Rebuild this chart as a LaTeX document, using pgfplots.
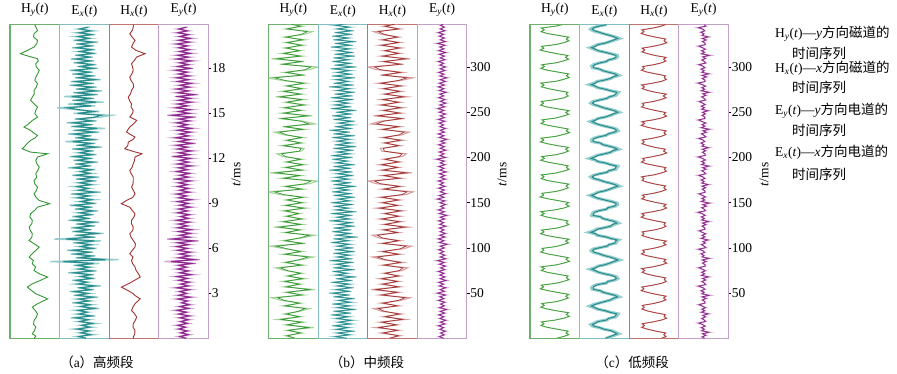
\documentclass[border=0pt]{standalone}
\usepackage{fontspec}
\setmainfont{Liberation Serif}
\newfontfamily\cjk{Noto Sans CJK SC}
\usepackage{pgfplots}
\pgfplotsset{compat=1.18}
\usepackage{pgfplotstable}
\newcommand\fs{\fontsize{13.5}{16}\selectfont}
\definecolor{hyD}{RGB}{52,150,52}
\definecolor{hyL}{RGB}{165,212,155}
\definecolor{hyF}{RGB}{110,175,110}
\definecolor{exD}{RGB}{40,140,140}
\definecolor{exL}{RGB}{150,205,205}
\definecolor{exF}{RGB}{130,190,195}
\definecolor{hxD}{RGB}{160,50,50}
\definecolor{hxL}{RGB}{215,160,160}
\definecolor{hxF}{RGB}{190,115,110}
\definecolor{eyD}{RGB}{140,40,140}
\definecolor{eyL}{RGB}{215,165,215}
\definecolor{eyF}{RGB}{195,160,200}
\pgfplotsset{
 pnl/.style={scale only axis, width=49.6pt, height=314pt, anchor=south west,
   xmin=-1, xmax=1, xtick=\empty, ytick=\empty,
   axis line style={line width=1.1pt},
   title style={font=\fs, yshift=-2pt}, tick label style={font=\fs}},
 ga/.style={pnl, ymin=0, ymax=20.93},
 gb/.style={pnl, ymin=0, ymax=347},
 tk/.style={ytick pos=right, yticklabel pos=right, tick align=outside,
   major tick length=3pt, ytick style={black, line width=0.6pt},
   yticklabel style={xshift=-3pt},
   /pgf/number format/assume math mode=true},
}
% ---------- group a (explicit value, time) ----------
\pgfplotstableread[header=false,row sep=\\]{-3 0\\4 0.15\\-10 0.31\\-2 0.5\\4 0.76\\-5 0.95\\-3 1.2\\6 1.4\\11 1.64\\2 1.85\\-10 2.09\\11 2.31\\52 2.64\\4 2.98\\-14 3.2\\-30 3.42\\-10 3.64\\20 3.85\\52 4.09\\18 4.31\\-3 4.53\\3 4.75\\-10 4.98\\-6 5.2\\-23 5.42\\-10 5.65\\4 5.87\\18 6.09\\-2 6.3\\-23 6.53\\-12 6.75\\-10 6.98\\-18 7.2\\-23 7.42\\-12 7.65\\-10 7.87\\-20 8.1\\-17 8.31\\0 8.55\\11 8.75\\60 8.98\\18 9.2\\5 9.4\\-3 9.64\\6 9.85\\11 10.09\\0 10.3\\-3 10.53\\8 10.75\\4 10.98\\12 11.2\\18 11.42\\8 11.65\\4 11.87\\11 12.09\\52 12.31\\-17 12.42\\-51 12.64\\-44 12.75\\-30 13.0\\-17 13.2\\0 13.35\\11 13.53\\-5 13.7\\-17 13.87\\-44 14.09\\-25 14.3\\-10 14.53\\11 14.75\\0 15.0\\4 15.2\\11 15.42\\-3 15.64\\-17 15.87\\-10 16.09\\-2 16.3\\-3 16.53\\6 16.75\\11 16.98\\0 17.2\\4 17.42\\12 17.65\\18 17.87\\6 18.1\\4 18.31\\14 18.5\\11 18.64\\-37 18.87\\-58 18.98\\-30 19.2\\-3 19.42\\8 19.65\\11 19.87\\-5 20.1\\-3 20.31\\11 20.53\\4 20.76\\0 20.9\\}\aHy
\pgfplotstableread[header=false,row sep=\\]{-2 0\\-3 0.09\\3 0.3\\4 0.53\\-4 0.75\\-3 0.98\\5 1.2\\11 1.42\\2 1.65\\-10 1.87\\-4 2.1\\4 2.31\\25 2.64\\5 2.85\\-3 2.98\\-25 3.2\\-51 3.42\\-23 3.64\\0 3.85\\25 4.09\\18 4.31\\8 4.55\\4 4.76\\-6 5.0\\-10 5.2\\-4 5.42\\-17 5.64\\-8 5.85\\4 6.09\\6 6.3\\-3 6.53\\-12 6.75\\-17 6.98\\-5 7.2\\-3 7.42\\-10 7.65\\-10 7.87\\0 8.1\\4 8.31\\-8 8.55\\-17 8.75\\-51 8.98\\-30 9.2\\-5 9.4\\4 9.64\\-2 9.85\\-10 10.09\\-4 10.3\\-3 10.53\\-3 10.76\\-12 11.0\\-17 11.2\\-8 11.4\\-3 11.64\\2 11.85\\4 12.09\\32 12.31\\0 12.45\\-37 12.64\\-25 12.85\\-23 13.09\\-5 13.25\\4 13.42\\-15 13.6\\-30 13.76\\-25 13.9\\-17 14.09\\-2 14.3\\11 14.53\\-17 14.76\\-6 15.0\\-3 15.2\\-12 15.42\\-10 15.64\\-18 15.85\\-23 16.09\\-14 16.3\\-10 16.53\\-2 16.75\\-3 16.98\\-12 17.2\\-17 17.42\\-8 17.65\\-3 17.87\\-6 18.1\\-10 18.31\\2 18.55\\11 18.76\\45 18.98\\8 19.2\\-10 19.42\\-4 19.65\\4 19.87\\-8 20.1\\-17 20.31\\-6 20.55\\-3 20.76\\-2 20.9\\}\aHx
\pgfplotstableread[header=false,row sep=\\]{10\\-30\\35\\-20\\25\\-40\\30\\-15\\45\\-25\\20\\-50\\40\\-30\\15\\-35\\55\\-20\\30\\-45\\25\\-30\\50\\-40\\20\\-55\\35\\-25\\60\\-35\\15\\-45\\40\\-20\\35\\-60\\45\\-30\\25\\-40\\55\\-125\\125\\-30\\40\\-50\\30\\-65\\45\\-20\\35\\-40\\60\\-110\\40\\-35\\70\\-45\\25\\-50\\40\\-30\\55\\-60\\20\\-45\\35\\-25\\50\\-35\\30\\-55\\45\\-20\\40\\-35\\25\\-50\\60\\-30\\20\\-40\\35\\-25\\45\\-30\\55\\-45\\30\\-20\\40\\-60\\25\\-35\\50\\-40\\30\\-55\\45\\-25\\35\\-45\\65\\-30\\40\\-70\\50\\-35\\25\\-60\\55\\-40\\75\\-50\\30\\-65\\45\\-35\\60\\100\\-40\\55\\-35\\-100\\40\\-60\\70\\-45\\35\\-75\\50\\-40\\65\\-30\\45\\-55\\35\\-50\\60\\-35\\40\\-45\\30\\-55\\50\\-25\\45\\-40\\35\\-50\\30\\-35\\45\\-25\\40\\-45\\35\\-30\\50\\-40\\25\\-35\\40\\-30\\35\\-25\\20\\}\aEx
\pgfplotstableread[header=false,row sep=\\]{15\\-20\\25\\-15\\20\\-25\\10\\-30\\20\\-15\\25\\-20\\30\\-25\\15\\-35\\25\\-20\\30\\-10\\20\\-30\\35\\-25\\15\\-20\\30\\-35\\25\\-15\\30\\-25\\20\\-35\\40\\-20\\25\\-30\\15\\-25\\45\\-70\\60\\-25\\30\\-20\\35\\-30\\20\\-35\\25\\-30\\55\\-60\\30\\-20\\35\\-25\\40\\-30\\20\\-25\\30\\-35\\25\\-15\\30\\-30\\20\\-25\\35\\-20\\25\\-30\\40\\-25\\15\\-35\\30\\-20\\25\\-30\\20\\-25\\35\\-40\\25\\-20\\30\\-35\\20\\-25\\40\\-30\\25\\-20\\35\\-45\\30\\-25\\40\\-30\\20\\-35\\45\\-25\\30\\-40\\25\\-20\\35\\-30\\40\\-25\\20\\-35\\30\\-25\\45\\-60\\30\\-25\\35\\-40\\20\\-30\\40\\-25\\35\\-30\\55\\-30\\25\\-35\\30\\-20\\40\\-30\\25\\-35\\30\\-25\\20\\-40\\35\\-30\\25\\-20\\40\\-35\\25\\-30\\35\\-20\\30\\-25\\20\\-35\\30\\-25\\35\\-20\\25\\-30\\20\\-25\\15\\}\aEy
% ---------- group b ----------
\pgfplotstableread[header=false,row sep=\\]{10\\-30\\35\\-25\\75\\-30\\40\\-60\\30\\-35\\25\\60\\-40\\30\\-45\\-80\\40\\-30\\80\\-35\\30\\-40\\45\\-25\\35\\-30\\-65\\40\\-35\\30\\75\\-40\\35\\-30\\-85\\45\\-40\\30\\80\\-35\\30\\-70\\35\\-45\\40\\-30\\25\\-40\\50\\-35\\40\\-30\\45\\-50\\-95\\40\\-35\\60\\90\\-45\\30\\-85\\40\\-35\\45\\-30\\35\\-40\\-60\\30\\40\\-45\\35\\-30\\40\\-35\\-70\\45\\-40\\80\\40\\-55\\70\\-45\\35\\-40\\50\\-30\\40\\-65\\35\\-45\\40\\-30\\50\\-40\\-95\\45\\-35\\60\\90\\-50\\40\\-80\\35\\-45\\30\\-35\\40\\-30\\45\\-35\\40\\70\\-30\\35\\-25\\}\bHy
\pgfplotstableread[header=false,row sep=\\]{-10\\35\\-40\\30\\-60\\25\\-45\\55\\-30\\40\\-35\\-65\\30\\-40\\35\\70\\-45\\30\\-75\\35\\-40\\30\\-45\\35\\-30\\40\\60\\-35\\45\\-30\\-70\\35\\-40\\45\\75\\-40\\35\\-45\\-70\\30\\-35\\65\\-30\\40\\-45\\35\\-30\\45\\-55\\30\\-40\\35\\-45\\55\\80\\-35\\40\\-55\\-85\\40\\-35\\75\\-40\\30\\-45\\35\\-30\\40\\55\\-35\\-40\\35\\-30\\45\\-35\\40\\65\\-40\\35\\-75\\-40\\50\\-65\\40\\-35\\45\\-45\\35\\-40\\60\\-30\\40\\-35\\45\\-50\\35\\80\\-40\\45\\-55\\-85\\45\\-35\\70\\-40\\35\\-30\\40\\-45\\35\\-40\\30\\-35\\-65\\35\\-30\\30\\}\bHx
\pgfplotstableread[header=false,row sep=\\]{20\\-35\\30\\-25\\45\\-30\\25\\-40\\35\\-20\\40\\-30\\25\\-45\\30\\-35\\50\\-25\\30\\-40\\35\\-20\\45\\-35\\25\\-50\\30\\-30\\40\\-25\\30\\-45\\35\\-25\\50\\-30\\20\\-40\\45\\-35\\25\\-30\\40\\-50\\35\\-25\\30\\-35\\45\\-30\\40\\-25\\30\\-45\\25\\-35\\55\\-30\\35\\-40\\30\\-35\\45\\-20\\40\\-50\\30\\-25\\35\\-45\\50\\-30\\25\\-35\\40\\-45\\30\\-20\\45\\-35\\35\\-40\\25\\-30\\50\\-35\\30\\-45\\25\\-30\\40\\-25\\35\\-50\\30\\-35\\45\\-30\\20\\-40\\35\\-45\\30\\-25\\40\\-35\\50\\-30\\35\\-25\\30\\-40\\45\\-35\\25\\-50\\35\\-30\\40\\-20\\45\\-35\\30\\-40\\35\\-25\\50\\-45\\30\\-35\\25\\-30\\40\\-45\\35\\-30\\45\\-25\\30\\-50\\40\\-35\\25\\-30\\45\\-40\\35\\-25\\30\\-45\\50\\-30\\35\\-40\\25\\-35\\45\\-30\\40\\-25\\30\\-45\\35\\-30\\50\\-35\\25\\-40\\35\\-30\\40\\-25\\30\\-35\\20\\}\bEx
\pgfplotstableread[header=false,row sep=\\]{10\\-15\\12\\-8\\18\\-12\\8\\-20\\15\\-10\\20\\-12\\10\\-18\\14\\-10\\25\\-15\\12\\-8\\15\\-20\\10\\-12\\18\\-25\\12\\-10\\20\\-15\\8\\-18\\22\\-10\\15\\-12\\10\\-20\\14\\-8\\18\\-15\\12\\-25\\20\\-10\\15\\-12\\8\\-18\\12\\-10\\28\\-15\\10\\-20\\15\\-12\\18\\-10\\10\\-15\\20\\-12\\8\\-18\\14\\-10\\25\\-15\\12\\-20\\10\\-8\\18\\-12\\15\\-25\\10\\-15\\20\\-10\\12\\-18\\15\\-12\\8\\-20\\18\\-10\\14\\-15\\22\\-12\\10\\-18\\15\\-10\\12\\-28\\18\\-12\\10\\-15\\20\\-10\\12\\-18\\15\\-8\\25\\-15\\10\\-20\\12\\-10\\18\\-12\\8\\-15\\15\\-20\\12\\-10\\18\\-15\\10\\-22\\14\\-12\\20\\-10\\15\\-18\\8\\-12\\22\\-15\\10\\-20\\12\\-15\\18\\-10\\25\\-12\\10\\-18\\15\\-10\\18\\-12\\8\\-20\\15\\-10\\12\\-15\\20\\-18\\10\\-12\\15\\-25\\18\\-10\\12\\-15\\8\\-20\\15\\-10\\12\\-8\\10\\}\bEy
% ---------- group c ----------
\pgfplotstableread[header=false,row sep=\\]{5\\35\\58\\47\\55\\12\\-30\\-57\\-45\\-55\\2\\38\\60\\48\\57\\10\\-32\\-58\\-44\\-54\\6\\34\\56\\46\\58\\14\\-28\\-60\\-47\\-56\\3\\36\\59\\49\\55\\11\\-31\\-56\\-43\\-57\\5\\37\\61\\47\\56\\13\\-29\\-58\\-46\\-53\\4\\33\\57\\45\\59\\10\\-33\\-59\\-45\\-55\\6\\36\\58\\48\\54\\12\\-30\\-57\\-44\\-58\\2\\38\\60\\46\\57\\15\\-28\\-61\\-47\\-54\\5\\35\\56\\47\\58\\11\\-32\\-56\\-45\\-56\\3\\34\\59\\49\\55\\13\\-30\\-58\\-43\\-55\\6\\37\\57\\45\\57\\10\\-31\\-60\\-46\\-57\\4\\35\\61\\48\\56\\14\\-29\\-57\\-44\\-53\\5\\33\\58\\46\\59\\12\\-33\\-59\\-47\\-56\\2\\38\\56\\47\\54\\11\\-28\\-56\\-45\\-58\\6\\36\\60\\49\\57\\13\\-31\\-58\\-43\\-54\\3\\35\\57\\45\\55\\10\\-30\\-61\\-46\\-55\\5\\37\\59\\48\\58\\14\\-32\\-57\\-44\\-56\\4\\36\\}\cHy
\pgfplotstableread[header=false,row sep=\\]{30\\50\\41\\48\\7\\-26\\-51\\-40\\-49\\-4\\31\\52\\42\\47\\5\\-28\\-50\\-41\\-48\\-2\\29\\49\\40\\50\\9\\-25\\-53\\-42\\-50\\-5\\32\\51\\43\\48\\6\\-27\\-49\\-39\\-51\\-3\\30\\53\\41\\49\\8\\-29\\-52\\-40\\-47\\-4\\28\\50\\39\\51\\5\\-26\\-50\\-42\\-49\\-1\\31\\49\\42\\47\\7\\-28\\-53\\-41\\-50\\-5\\33\\52\\40\\50\\9\\-25\\-51\\-39\\-48\\-3\\30\\50\\41\\48\\6\\-27\\-49\\-42\\-51\\-2\\29\\51\\43\\49\\8\\-29\\-52\\-40\\-47\\-4\\32\\53\\40\\47\\5\\-26\\-50\\-41\\-49\\-5\\30\\49\\42\\50\\7\\-28\\-53\\-39\\-50\\-3\\31\\52\\41\\48\\9\\-25\\-51\\-42\\-48\\-2\\28\\50\\39\\51\\6\\-27\\-49\\-40\\-51\\-4\\33\\51\\43\\47\\8\\-29\\-52\\-41\\-47\\-1\\30\\49\\40\\50\\5\\-26\\-50\\-39\\-49\\-5\\31\\53\\42\\48\\7\\-28\\-53\\-42\\-50\\-3\\30\\51\\}\cHx
\pgfplotstableread[header=false,row sep=\\]{5\\22\\40\\58\\45\\30\\-2\\-20\\-48\\-55\\-40\\-28\\10\\18\\46\\52\\56\\25\\4\\-28\\-42\\-60\\-45\\-22\\2\\26\\38\\60\\48\\20\\-6\\-18\\-50\\-52\\-46\\-30\\8\\15\\44\\55\\50\\32\\0\\-25\\-40\\-58\\-38\\-26\\4\\24\\42\\62\\44\\22\\-4\\-22\\-46\\-54\\-48\\-20\\12\\20\\48\\50\\58\\28\\6\\-30\\-38\\-62\\-42\\-32\\0\\28\\36\\57\\46\\18\\-8\\-16\\-52\\-50\\-44\\-24\\9\\16\\45\\54\\52\\30\\2\\-26\\-44\\-59\\-40\\-28\\3\\23\\40\\61\\47\\24\\-3\\-21\\-47\\-56\\-46\\-22\\11\\19\\47\\51\\55\\26\\5\\-29\\-39\\-61\\-43\\-30\\1\\27\\37\\58\\45\\19\\-7\\-17\\-51\\-53\\-45\\-25\\7\\17\\43\\56\\51\\31\\1\\-24\\-43\\-57\\-39\\-27\\5\\25\\41\\60\\46\\21\\-5\\-23\\-45\\-55\\-47\\-21\\10\\21\\46\\52\\57\\27\\4\\-28\\-40\\-60\\-41\\-31\\2\\26\\39\\59\\47\\20\\-6\\-19\\-49\\-52\\-44\\-23\\8\\18\\44\\54\\53\\29\\3\\-27\\-42\\-58\\-40\\-29\\4\\24\\42\\61\\45\\23\\-2\\-22\\-46\\-56\\-47\\-24\\9\\}\cEx
\pgfplotstableread[header=false,row sep=\\]{5\\-8\\12\\-6\\28\\-10\\4\\-12\\8\\-5\\-26\\10\\3\\-10\\10\\-4\\25\\-12\\6\\-9\\10\\-7\\-24\\8\\6\\-7\\14\\-8\\30\\-9\\3\\-13\\7\\-4\\-28\\11\\4\\-9\\11\\-5\\26\\-11\\5\\-10\\9\\-6\\-25\\9\\7\\-6\\13\\-7\\29\\-8\\2\\-14\\6\\-3\\-27\\12\\2\\-11\\9\\-3\\24\\-13\\7\\-8\\11\\-8\\-23\\7\\5\\-8\\12\\-6\\27\\-10\\4\\-12\\8\\-5\\-29\\10\\3\\-10\\15\\-4\\31\\-12\\6\\-9\\10\\-7\\-24\\8\\6\\-7\\10\\-8\\25\\-9\\3\\-13\\7\\-4\\-26\\11\\4\\-9\\13\\-5\\28\\-11\\5\\-10\\9\\-6\\-28\\9\\7\\-6\\11\\-7\\26\\-8\\2\\-14\\6\\-3\\-25\\12\\2\\-11\\14\\-3\\30\\-13\\7\\-8\\11\\-8\\-27\\7\\5\\-8\\9\\-6\\24\\-10\\4\\-12\\8\\-5\\-23\\10\\3\\-10\\12\\-4\\29\\-12\\6\\-9\\10\\-7\\-29\\8\\6\\-7\\15\\-8\\27\\-9\\3\\-13\\7\\-4\\-24\\11\\4\\-9\\10\\-5\\31\\-11\\5\\-10\\9\\-6\\-26\\9\\7\\-6\\13\\-7\\25\\-8\\2\\-14\\6\\-3\\-28\\12\\4\\}\cEy
\begin{document}
\begin{tikzpicture}[font=\fs]
\path (0pt,0pt) rectangle (897pt,369pt);
% ===== group a =====
\begin{axis}[ga, at={(10pt,35pt)}, axis line style={hyF}, title={H\textsubscript{\textit{y}}(\textit{t})}]
\addplot[hyD, line width=0.9pt] table[x index=0, y index=1, x expr=\thisrowno{0}/100]{\aHy};
\end{axis}
\begin{axis}[ga, at={(59.6pt,35pt)}, axis line style={exF}, clip=false, title={E\textsubscript{\textit{x}}(\textit{t})}]
\addplot[exL, line width=1.4pt] table[x index=0, y index=0, x expr=\thisrowno{0}*0.011, y expr=\coordindex*0.125]{\aEx};
\addplot[exD, line width=1.1pt] table[x index=0, y index=0, x expr=\thisrowno{0}*0.0068, y expr=\coordindex*0.125]{\aEx};
\end{axis}
\begin{axis}[ga, at={(109.2pt,35pt)}, axis line style={hxF}, title={H\textsubscript{\textit{x}}(\textit{t})}]
\addplot[hxD, line width=0.9pt] table[x index=0, y index=1, x expr=\thisrowno{0}/100]{\aHx};
\end{axis}
\begin{axis}[ga, at={(158.8pt,35pt)}, axis line style={eyF}, title={E\textsubscript{\textit{y}}(\textit{t})}, tk, ytick={3,6,...,18}]
\addplot[eyL, line width=1.4pt] table[x index=0, y index=0, x expr=\thisrowno{0}*0.011, y expr=\coordindex*0.125]{\aEy};
\addplot[eyD, line width=1.1pt] table[x index=0, y index=0, x expr=\thisrowno{0}*0.0072, y expr=\coordindex*0.125]{\aEy};
\end{axis}
% ===== group b =====
\begin{axis}[gb, at={(268.5pt,35pt)}, axis line style={hyF}, title={H\textsubscript{\textit{y}}(\textit{t})}]
\addplot[hyL, line width=1.1pt] table[x index=0, y index=0, x expr=\thisrowno{0}*0.011, y expr=\coordindex*3]{\bHy};
\addplot[hyD, line width=0.7pt] table[x index=0, y index=0, x expr=\thisrowno{0}*0.008, y expr=\coordindex*3]{\bHy};
\end{axis}
\begin{axis}[gb, at={(318.1pt,35pt)}, axis line style={exF}, title={E\textsubscript{\textit{x}}(\textit{t})}]
\addplot[exL, line width=1.2pt] table[x index=0, y index=0, x expr=\thisrowno{0}*0.011, y expr=\coordindex*2]{\bEx};
\addplot[exD, line width=0.8pt] table[x index=0, y index=0, x expr=\thisrowno{0}*0.008, y expr=\coordindex*2]{\bEx};
\end{axis}
\begin{axis}[gb, at={(367.7pt,35pt)}, axis line style={hxF}, title={H\textsubscript{\textit{x}}(\textit{t})}]
\addplot[hxL, line width=1.1pt] table[x index=0, y index=0, x expr=\thisrowno{0}*0.011-0.05, y expr=\coordindex*3]{\bHx};
\addplot[hxD, line width=0.7pt] table[x index=0, y index=0, x expr=\thisrowno{0}*0.008-0.05, y expr=\coordindex*3]{\bHx};
\end{axis}
\begin{axis}[gb, at={(417.3pt,35pt)}, axis line style={eyF}, title={E\textsubscript{\textit{y}}(\textit{t})}, tk, ytick={50,100,...,300}]
\addplot[eyL, line width=1.1pt] table[x index=0, y index=0, x expr=\thisrowno{0}/100, y expr=\coordindex*2]{\bEy};
\addplot[eyD, line width=0.8pt] table[x index=0, y index=0, x expr=\thisrowno{0}*0.007, y expr=\coordindex*2]{\bEy};
\end{axis}
% ===== group c =====
\begin{axis}[gb, at={(530pt,35pt)}, axis line style={hyF}, title={H\textsubscript{\textit{y}}(\textit{t})}]
\addplot[hyL, line width=1.1pt] table[x index=0, y index=0, x expr=\thisrowno{0}/100, y expr=\coordindex*2.03]{\cHy};
\addplot[hyD, line width=0.6pt] table[x index=0, y index=0, x expr=\thisrowno{0}*0.0095, y expr=\coordindex*2.03]{\cHy};
\end{axis}
\begin{axis}[gb, at={(579.6pt,35pt)}, axis line style={exF}, title={E\textsubscript{\textit{x}}(\textit{t})}]
\addplot[exL, line width=3pt] table[x index=0, y index=0, x expr=\thisrowno{0}/100, y expr=\coordindex*1.7]{\cEx};
\addplot[exD, line width=1pt] table[x index=0, y index=0, x expr=\thisrowno{0}*0.0088, y expr=\coordindex*1.7]{\cEx};
\end{axis}
\begin{axis}[gb, at={(629.2pt,35pt)}, axis line style={hxF}, title={H\textsubscript{\textit{x}}(\textit{t})}]
\addplot[hxL, line width=1.1pt] table[x index=0, y index=0, x expr=\thisrowno{0}/100, y expr=\coordindex*2.03]{\cHx};
\addplot[hxD, line width=0.6pt] table[x index=0, y index=0, x expr=\thisrowno{0}*0.0095, y expr=\coordindex*2.03]{\cHx};
\end{axis}
\begin{axis}[gb, at={(678.8pt,35pt)}, axis line style={eyF}, title={E\textsubscript{\textit{y}}(\textit{t})}, tk, ytick={50,100,...,300}]
\addplot[eyL, line width=1.1pt] table[x index=0, y index=0, x expr=\thisrowno{0}/100, y expr=\coordindex*1.7]{\cEy};
\addplot[eyD, line width=0.8pt] table[x index=0, y index=0, x expr=\thisrowno{0}*0.007, y expr=\coordindex*1.7]{\cEy};
\end{axis}
% ===== labels =====
\node[rotate=90] at (236pt,199pt) {\textit{t}/ms};
\node[rotate=90] at (502pt,199pt) {\textit{t}/ms};
\node[rotate=90] at (764pt,199pt) {\textit{t}/ms};
\node at (97pt,11pt) {{\cjk （}a{\cjk ）高频段}};
\node at (367pt,11pt) {{\cjk （}b{\cjk ）中频段}};
\node at (632pt,11pt) {{\cjk （}c{\cjk ）低频段}};
\node[anchor=west,inner sep=0pt] at (775pt,340pt) {H\textsubscript{\textit{y}}(\textit{t})—\textit{y}{\cjk 方向磁道的}};
\node[anchor=west,inner sep=0pt] at (792pt,320pt) {\cjk 时间序列};
\node[anchor=west,inner sep=0pt] at (775pt,305pt) {H\textsubscript{\textit{x}}(\textit{t})—\textit{x}{\cjk 方向磁道的}};
\node[anchor=west,inner sep=0pt] at (792pt,286pt) {\cjk 时间序列};
\node[anchor=west,inner sep=0pt] at (775pt,263pt) {E\textsubscript{\textit{y}}(\textit{t})—\textit{y}{\cjk 方向电道的}};
\node[anchor=west,inner sep=0pt] at (792pt,243pt) {\cjk 时间序列};
\node[anchor=west,inner sep=0pt] at (775pt,221pt) {E\textsubscript{\textit{x}}(\textit{t})—\textit{x}{\cjk 方向电道的}};
\node[anchor=west,inner sep=0pt] at (792pt,199pt) {\cjk 时间序列};
\end{tikzpicture}
\end{document}
